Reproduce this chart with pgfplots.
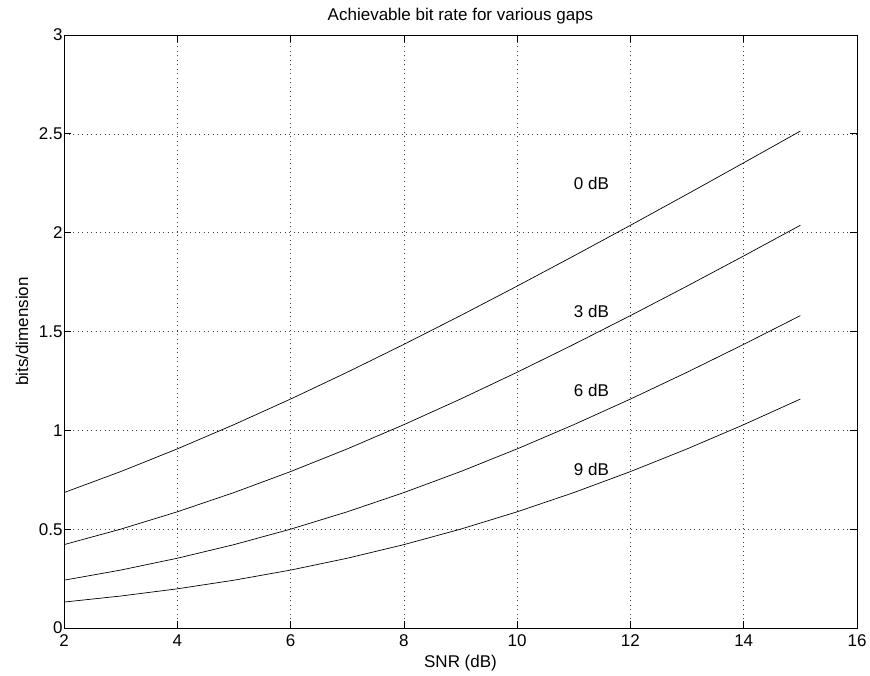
\documentclass[border=0pt]{standalone}
\usepackage{fontspec}
\setmainfont{Liberation Sans}
\usepackage{pgfplots}
\pgfplotsset{compat=1.18}
\begin{document}
\begin{tikzpicture}[x=1pt,y=1pt]
\path[use as bounding box] (0,0) rectangle (870,675);
\begin{axis}[
  at={(64pt,47pt)}, anchor=south west,
  scale only axis, width=793pt, height=593pt,
  xmin=2, xmax=16, ymin=0, ymax=3,
  xtick={2,4,...,16}, ytick={0,0.5,...,3},
  yticklabels={0,0.5,1,1.5,2,2.5,3},
  tick align=inside, tick pos=both,
  major tick length=7pt,
  grid=major, major grid style={black!75, dash pattern=on 1pt off 3.5pt, line width=0.6pt},
  axis line style={line width=0.7pt},
  every tick/.style={black, line width=0.7pt},
  tick label style={font=\fontsize{17}{19}\selectfont},
  xticklabel style={yshift=-3.5pt},
  yticklabel style={xshift=2pt},
  /pgf/number format/assume math mode=true,
  title={Achievable bit rate for various gaps},
  title style={font=\fontsize{17}{19}\selectfont, at={(0.5,1.022)}, anchor=center},
  xlabel={SNR (dB)}, ylabel={bits/dimension},
  label style={font=\fontsize{17}{19}\selectfont},
  xlabel style={at={(0.5,-0.059)}, anchor=center},
  ylabel style={at={(-0.053,0.5)}, anchor=center},
]
\addplot[black, line width=0.7pt] coordinates {
(2,0.6851)(3,0.7913)(4,0.9061)(5,1.0287)(6,1.1582)(7,1.2939)(8,1.4349)(9,1.5804)(10,1.7297)(11,1.8822)(12,2.0373)(13,2.1945)(14,2.3535)(15,2.5139)};
\addplot[black, line width=0.7pt] coordinates {
(2,0.4217)(3,0.5)(4,0.5878)(5,0.6851)(6,0.7913)(7,0.9061)(8,1.0287)(9,1.1582)(10,1.2939)(11,1.4349)(12,1.5804)(13,1.7297)(14,1.8822)(15,2.0373)};
\addplot[black, line width=0.7pt] coordinates {
(2,0.2418)(3,0.2930)(4,0.3529)(5,0.4217)(6,0.5)(7,0.5878)(8,0.6851)(9,0.7913)(10,0.9061)(11,1.0287)(12,1.1582)(13,1.2939)(14,1.4349)(15,1.5804)};
\addplot[black, line width=0.7pt] coordinates {
(2,0.1312)(3,0.1617)(4,0.1982)(5,0.2418)(6,0.2930)(7,0.3529)(8,0.4217)(9,0.5)(10,0.5878)(11,0.6851)(12,0.7913)(13,0.9061)(14,1.0287)(15,1.1582)};
\node[anchor=west, font=\fontsize{17}{19}\selectfont, inner sep=0pt] at (axis cs:11,2.25) {0 dB};
\node[anchor=west, font=\fontsize{17}{19}\selectfont, inner sep=0pt] at (axis cs:11,1.6) {3 dB};
\node[anchor=west, font=\fontsize{17}{19}\selectfont, inner sep=0pt] at (axis cs:11,1.2) {6 dB};
\node[anchor=west, font=\fontsize{17}{19}\selectfont, inner sep=0pt] at (axis cs:11,0.8) {9 dB};
\end{axis}
\end{tikzpicture}
\end{document}
